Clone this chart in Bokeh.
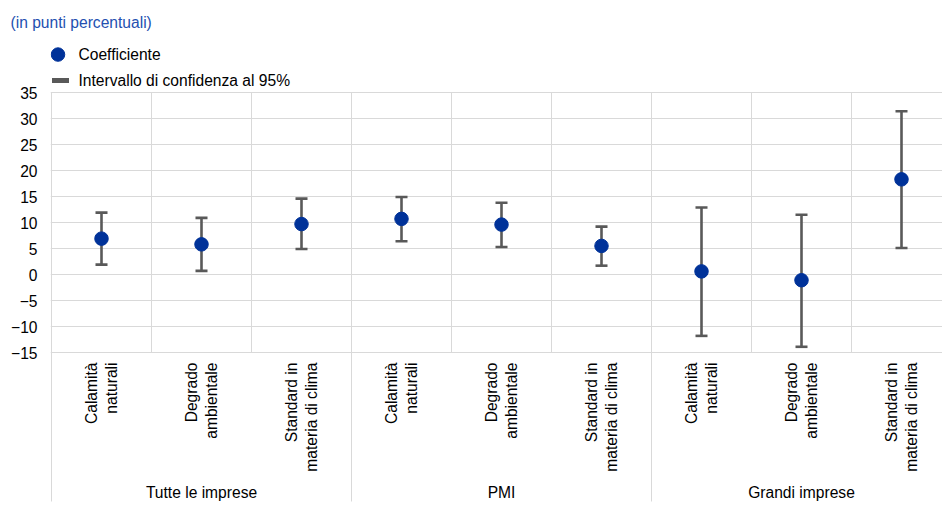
import math
from bokeh.plotting import figure
from bokeh.models import ColumnDataSource, Range1d, FixedTicker, Whisker, TeeHead
from bokeh.core.properties import value
from bokeh.embed import file_html
from bokeh.resources import INLINE

# ---- data ----
groups = ["Tutte le imprese", "PMI", "Grandi imprese"]
factors = ["Calamità\nnaturali", "Degrado\nambientale", "Standard in\nmateria di clima"]
coefficient = [6.9, 5.8, 9.7, 10.7, 9.6, 5.5, 0.6, -1.1, 18.3]
ci_lower = [1.9, 0.7, 4.9, 6.4, 5.3, 1.7, -11.8, -13.9, 5.1]
ci_upper = [11.9, 10.9, 14.6, 14.9, 13.8, 9.2, 12.9, 11.5, 31.4]
y_ticks = [-15, -10, -5, 0, 5, 10, 15, 20, 25, 30, 35]
title_text = "(in punti percentuali)"
legend_labels = ["Coefficiente", "Intervallo di confidenza al 95%"]

# ---- styles ----
FONT = "Liberation Sans"
FS = "15.6px"
BLUE = "#003299"
TITLE_BLUE = "#2350b0"
GREY = "#595959"
GRID = "#d9d9d9"

n_per = len(factors)
n_cat = n_per * len(groups)
x_pos = list(range(1, n_cat + 1))
cat_text = factors * len(groups)
group_x = [g * n_per + (n_per + 1) / 2 for g in range(len(groups))]
inner_edges = [g * n_per + k + 0.5 for g in range(len(groups)) for k in range(1, n_per)]
group_edges = [g * n_per + 0.5 for g in range(len(groups) + 1)]

ymin, ymax = -45.19, 46.54
sep_bottom = -43.65
p = figure(width=942, height=509, output_backend="svg", toolbar_location=None,
           x_range=Range1d(0.49, 9.41), y_range=Range1d(ymin, ymax),
           x_axis_location=None, title=title_text,
           min_border_left=50, min_border_right=0, min_border_top=32, min_border_bottom=0)
p.outline_line_color = None
p.background_fill_color = "white"
p.border_fill_color = "white"

# title
p.title.align = "left"
p.title.offset = -40
p.title.text_font = FONT
p.title.text_font_size = FS
p.title.text_font_style = "normal"
p.title.text_color = TITLE_BLUE
p.title.standoff = 4

# y axis
p.yaxis.ticker = FixedTicker(ticks=y_ticks)
p.yaxis.axis_line_color = None
p.yaxis.major_tick_line_color = None
p.yaxis.major_tick_out = 0
p.yaxis.major_tick_in = 0
p.yaxis.minor_tick_line_color = None
p.yaxis.major_label_standoff = 13
p.yaxis.major_label_text_font = FONT
p.yaxis.major_label_text_font_size = FS
p.yaxis.major_label_text_color = "black"
p.ygrid.ticker = FixedTicker(ticks=y_ticks)
p.ygrid.grid_line_color = GRID
p.ygrid.grid_line_width = 1
for g in p.xgrid:
    g.visible = False

# vertical grid lines
p.segment(x0=inner_edges, y0=[y_ticks[0]] * len(inner_edges), x1=inner_edges,
          y1=[y_ticks[-1]] * len(inner_edges), line_color=GRID, line_width=1)
p.segment(x0=group_edges, y0=[sep_bottom] * len(group_edges), x1=group_edges,
          y1=[y_ticks[-1]] * len(group_edges), line_color=GRID, line_width=1)

# confidence intervals
src = ColumnDataSource(dict(x=x_pos, coef=coefficient, lo=ci_lower, hi=ci_upper))
w = Whisker(base="x", lower="lo", upper="hi", source=src, line_color=GREY, line_width=2.6,
            lower_head=TeeHead(size=12, line_color=GREY, line_width=2.6),
            upper_head=TeeHead(size=12, line_color=GREY, line_width=2.6))
p.add_layout(w)

# coefficients
p.scatter("x", "coef", source=src, size=13.5, fill_color=BLUE, line_color=BLUE)

# category labels (rotated)
p.text(x=x_pos, y=[-16.92] * n_cat, text=cat_text, angle=math.pi / 2,
       text_align="right", text_baseline="middle", text_font=value(FONT),
       text_font_size=FS, text_line_height=1.12, text_color="black")
# group labels
p.text(x=group_x, y=[-41.9] * len(groups), text=groups, text_align="center",
       text_baseline="middle", text_font=value(FONT), text_font_size=FS, text_color="black")

# legend
p.scatter(x=[0.565], y=[42.3], size=13.5, fill_color=BLUE, line_color=BLUE)
p.rect(x=[0.59], y=[37.31], width=17, height=5, width_units="screen", height_units="screen",
       fill_color=GREY, line_color=None)
p.text(x=[0.77, 0.77], y=[42.3, 37.31], text=legend_labels, text_align="left",
       text_baseline="middle", text_font=value(FONT), text_font_size=FS, text_color="black")

open("out.html", "w").write(file_html(p, INLINE))
